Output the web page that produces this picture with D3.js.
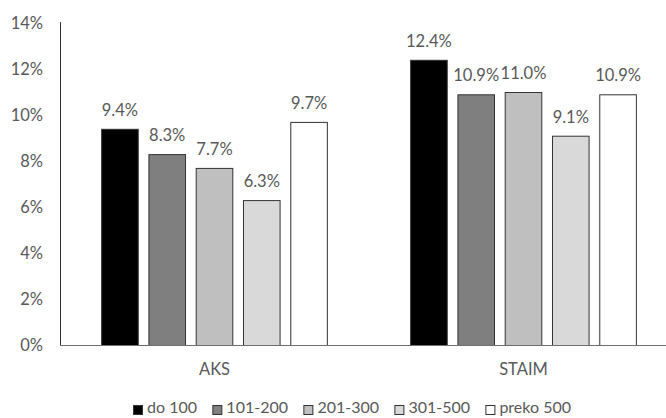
<!DOCTYPE html>
<html>
<head>
<meta charset="utf-8">
<script src="https://cdn.jsdelivr.net/npm/d3@7"></script>
<style>
  html, body { margin: 0; padding: 0; background: #fff; }
  svg { display: block; font-family: Lato, "Open Sans", sans-serif; }
</style>
</head>
<body>
<svg id="chart" width="666" height="418"></svg>
<script>
// Categories and size groups
const categories = ["AKS", "STAIM"];
const groups = ["do 100", "101-200", "201-300", "301-500", "preko 500"];
const groupColors = ["#000000", "#7f7f7f", "#bfbfbf", "#d9d9d9", "#ffffff"];

// Shares (%) per size group, in category order
const doSto = [9.4, 12.4];
const od101do200 = [8.3, 10.9];
const od201do300 = [7.7, 11.0];
const od301do500 = [6.3, 9.1];
const preko500 = [9.7, 10.9];
const seriesValues = [doSto, od101do200, od201do300, od301do500, preko500];

const yTicks = [0, 2, 4, 6, 8, 10, 12, 14];

const svg = d3.select("#chart");
const margin = { left: 60, top: 23, bottom: 73 };
const plotBottom = 418 - margin.bottom; // 345
const plotRight = 678;
const fontSize = "16.5px";

const x0 = d3.scaleBand().domain(categories).range([margin.left, plotRight]).padding(0);
const x1 = d3.scaleBand().domain(groups).range([0, x0.bandwidth()])
  .paddingInner(0.205).paddingOuter(0.87);
const y = d3.scaleLinear().domain([0, 14]).range([plotBottom, margin.top]);

const textColor = "#595959";

// Y axis labels
const yAxis = svg.append("g").attr("transform", `translate(${margin.left},0)`)
  .call(d3.axisLeft(y).tickValues(yTicks).tickFormat(d => d + "%").tickSize(0).tickPadding(17));
yAxis.select(".domain").remove();
yAxis.selectAll("text").attr("fill", textColor).style("font-size", fontSize)
  .style("font-family", "Lato, 'Open Sans', sans-serif");

// Bars
const rows = [];
categories.forEach((c, ci) => {
  groups.forEach((g, gi) => rows.push({ cat: c, group: g, gi, value: seriesValues[gi][ci] }));
});

const barG = svg.append("g");
barG.selectAll("rect").data(rows).join("rect")
  .attr("x", d => x0(d.cat) + x1(d.group) + 0.5)
  .attr("y", d => y(d.value) + 0.5)
  .attr("width", x1.bandwidth() - 1)
  .attr("height", d => plotBottom - y(d.value))
  .attr("fill", d => groupColors[d.gi])
  .attr("stroke", "#333")
  .attr("stroke-width", 1);

// Value labels
barG.selectAll("text").data(rows).join("text")
  .attr("x", d => x0(d.cat) + x1(d.group) + x1.bandwidth() / 2)
  .attr("y", d => y(d.value) - 13)
  .attr("text-anchor", "middle")
  .attr("fill", textColor)
  .style("font-size", fontSize)
  .text(d => d.value.toFixed(1) + "%");

// Axis lines
svg.append("line").attr("x1", margin.left + 0.5).attr("x2", margin.left + 0.5)
  .attr("y1", margin.top - 1).attr("y2", plotBottom)
  .attr("stroke", "#333").attr("stroke-width", 1);
svg.append("line").attr("x1", margin.left).attr("x2", plotRight)
  .attr("y1", plotBottom + 0.5).attr("y2", plotBottom + 0.5)
  .attr("stroke", "#6e6e6e").attr("stroke-width", 1);

// Category labels
svg.append("g").selectAll("text").data(categories).join("text")
  .attr("x", d => x0(d) + x0.bandwidth() / 2)
  .attr("y", plotBottom + 30)
  .attr("text-anchor", "middle")
  .attr("fill", textColor)
  .style("font-size", fontSize)
  .text(d => d);

// Legend: items spread across a fixed span below the axis
const legendLeft = 133, legendRight = 571, swatchOffset = 14;
const legend = svg.append("g");
const items = groups.map((g, gi) => {
  const item = legend.append("g");
  item.append("rect").attr("x", 0.5).attr("y", 405.5).attr("width", 9).attr("height", 9)
    .attr("fill", groupColors[gi]).attr("stroke", "#333").attr("stroke-width", 1);
  const t = item.append("text").attr("x", swatchOffset).attr("y", 413)
    .attr("fill", textColor).style("font-size", "16px").text(g);
  return { item, w: t.node().getComputedTextLength() };
});
const used = d3.sum(items, d => d.w + swatchOffset);
const gap = (legendRight - legendLeft - used) / (items.length - 1);
let lx = legendLeft;
items.forEach(d => {
  d.item.attr("transform", `translate(${lx},0)`);
  lx += swatchOffset + d.w + gap;
});
</script>
</body>
</html>
